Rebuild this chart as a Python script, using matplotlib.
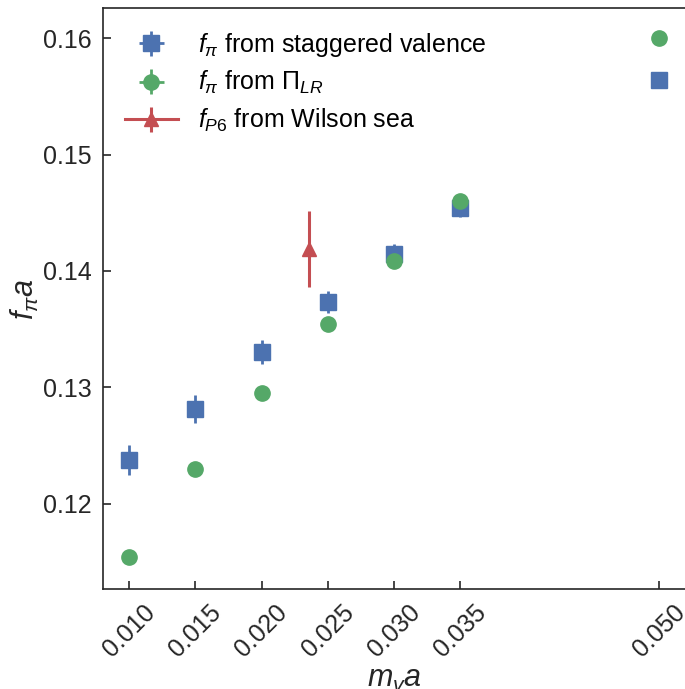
import matplotlib

matplotlib.use("Agg")
import matplotlib.pyplot as plt

# valence quark mass
mv_stag = [0.010, 0.015, 0.020, 0.025, 0.030, 0.035, 0.050]
fpi_stag = [0.12376, 0.12814, 0.13304, 0.13733, 0.14149, 0.14541, 0.15642]
fpi_stag_err = [0.00132, 0.00119, 0.00103, 0.00092, 0.00083, 0.00075, 0.0006]

mv_lr = [0.010, 0.015, 0.020, 0.025, 0.030, 0.035, 0.050]
fpi_lr = [0.11542, 0.12296, 0.12951, 0.13544, 0.14088, 0.14602, 0.16000]
fpi_lr_err = [0.0003, 0.0003, 0.0003, 0.0003, 0.0003, 0.0003, 0.0003]

mv_wilson = [0.02358]
fp6_wilson = [0.14189]
fp6_wilson_err = [0.00327]

xticks = [0.010, 0.015, 0.020, 0.025, 0.030, 0.035, 0.050]
yticks = [0.12, 0.13, 0.14, 0.15, 0.16]

BLUE = "#4C72B0"
GREEN = "#55A868"
RED = "#C44E52"

plt.rcParams["font.family"] = ["Liberation Sans", "DejaVu Sans"]
plt.rcParams["mathtext.fontset"] = "custom"
plt.rcParams["mathtext.rm"] = "Liberation Sans"
plt.rcParams["mathtext.it"] = "Liberation Sans:italic"
plt.rcParams["mathtext.bf"] = "Liberation Sans:bold"

fig = plt.figure(figsize=(6.85, 6.89), dpi=100)
ax = fig.add_axes([102.5 / 685, (689 - 589.3) / 689, 583.0 / 685, 581.0 / 689])

ax.errorbar(
  mv_stag, fpi_stag, yerr=fpi_stag_err, xerr=[0] * len(mv_stag),
  fmt="s", color=BLUE, markersize=11, elinewidth=2, capsize=0,
  label=r"$f_\pi$ from staggered valence",
)
ax.errorbar(
  mv_lr, fpi_lr, yerr=fpi_lr_err, xerr=[0] * len(mv_lr),
  fmt="o", color=GREEN, markersize=11, elinewidth=2, capsize=0,
  label=r"$f_\pi$ from $\Pi_{LR}$",
)
ax.errorbar(
  mv_wilson, fp6_wilson, yerr=fp6_wilson_err,
  fmt="^-", color=RED, markersize=10, elinewidth=2.2, linewidth=2.2, capsize=0,
  label=r"$f_{P6}$ from Wilson sea",
)

ax.set_xlim(0.008, 0.052)
ax.set_ylim(0.11264, 0.16258)
ax.set_xticks(xticks)
ax.set_xticklabels([f"{t:.3f}" for t in xticks], rotation=45, ha="center")
ax.set_yticks(yticks)
ax.set_yticklabels([f"{t:.2f}" for t in yticks])
ax.tick_params(direction="in", length=6, width=1.2, labelsize=18, pad=8,
               colors="#262626")
for s in ax.spines.values():
  s.set_linewidth(1.2)
  s.set_color("#262626")

ax.set_xlabel(r"$m_v a$", fontsize=22, color="#262626")
ax.set_ylabel(r"$f_\pi a$", fontsize=22, color="#262626")
ax.xaxis.set_label_coords(0.5, -0.129)
ax.yaxis.set_label_coords(-0.105, 0.5)

ax.legend(loc="upper left", frameon=False, fontsize=18, handlelength=2.1,
          borderaxespad=0.5, labelspacing=0.42)

fig.savefig("out.png", dpi=100)
